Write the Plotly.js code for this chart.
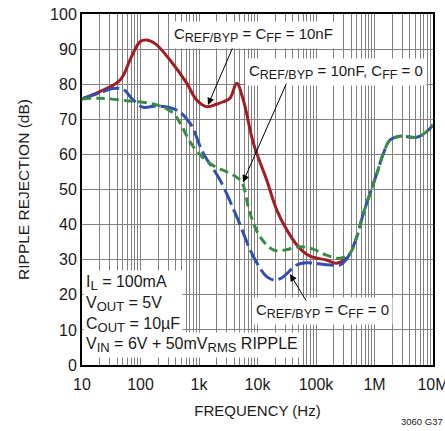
<!DOCTYPE html>
<html><head><meta charset="utf-8">
<script src="https://cdn.plot.ly/plotly-3.0.1.min.js"></script>
<style>html,body{margin:0;padding:0;background:#fff}</style>
</head><body>
<div id="chart" style="width:445px;height:431px"></div>
<script>
// C_REF/BYP = C_FF = 10nF (red)
const redFreq = [10, 23, 45, 70, 98, 128, 180, 319, 617, 912, 1350, 2000, 2600, 3390, 4400, 5720, 8500, 14360, 21300, 31700, 49800, 79000, 151000, 224000, 335000];
const redDB   = [75.8, 78.3, 81.2, 87.8, 92.1, 92.6, 91.5, 86.9, 80.3, 75.5, 73.6, 74.3, 75, 76, 80.3, 75.5, 63.2, 52.7, 44.2, 38.5, 33.7, 31, 29.9, 29, 30.4];
// C_REF/BYP = C_FF = 0 (blue)
const blueFreq = [10, 20, 34, 51, 75, 112, 189, 417, 702, 1186, 2290, 4400, 8500, 14360, 20000, 27000, 46700, 69000, 174000, 257000, 355000, 500000, 646000, 1100000, 1420000, 1840000, 2750000, 5250000, 7800000, 10000000];
const blueDB   = [75.8, 77.5, 78.8, 78.5, 75.5, 73.4, 73.8, 72.6, 68.9, 60.3, 52.7, 42.3, 30.9, 25.2, 24.2, 25, 28.5, 29.1, 28.5, 28.5, 30.9, 36.6, 43.2, 54.6, 60.3, 64.1, 65.2, 64.9, 66.5, 68.4];
// C_REF/BYP = 10nF, C_FF = 0 (green)
const greenFreq = [10, 20, 58, 189, 363, 795, 1540, 3850, 5340, 7450, 11000, 18600, 30000, 53200, 90000, 151000, 256000, 380000, 500000, 646000, 1100000, 1420000, 1840000, 2750000, 5250000, 7800000, 10000000];
const greenDB   = [75.8, 76, 75.3, 74.1, 71.7, 62.2, 57.4, 54.1, 52.2, 43.2, 36.6, 32.8, 32.8, 33.7, 33, 31.3, 30.4, 31.8, 36.6, 43.2, 54.6, 60.3, 64.1, 65.2, 64.9, 66.5, 68.4];

const xTickVals = [10, 100, 1000, 10000, 100000, 1000000, 10000000];
const xTickText = ['10', '100', '1k', '10k', '100k', '1M', '10M'];

const FONT = '"Liberation Sans", Arial, sans-serif';
const sub = (s, px) => '<sub><span style="font-size:' + px + 'px">' + s + '</span></sub>';
const s1 = s => sub(s, 12.5);
const s2 = s => sub(s, 13);

const traces = [
  {x: redFreq, y: redDB, mode: 'lines', line: {color: '#a11d21', width: 3, shape: 'spline', smoothing: 1}},
  {x: blueFreq, y: blueDB, mode: 'lines', line: {color: '#3050b0', width: 3, shape: 'spline', smoothing: 1, dash: '17px,5px'}},
  {x: greenFreq, y: greenDB, mode: 'lines', line: {color: '#3a8c45', width: 3, shape: 'spline', smoothing: 1, dash: '9px,5px'}}
];

const layout = {
  width: 445, height: 431,
  margin: {l: 82, r: 12, t: 14, b: 66},
  showlegend: false,
  paper_bgcolor: '#fff', plot_bgcolor: '#fff',
  font: {family: FONT, color: '#1a1a1a', size: 16},
  xaxis: {
    type: 'log', range: [1, 7],
    tickvals: xTickVals, ticktext: xTickText,
    tickfont: {size: 16}, ticks: '', ticklabeloverflow: 'allow', ticklabelstandoff: 4,
    showgrid: true, gridcolor: '#808080', gridwidth: 1,
    minor: {dtick: 'D1', showgrid: true, gridcolor: '#808080', gridwidth: 1, ticks: ''},
    showline: true, mirror: true, linecolor: '#000', linewidth: 2,
    zeroline: false,
    title: {text: 'FREQUENCY (Hz)', font: {size: 15}, standoff: 13}
  },
  yaxis: {
    range: [0, 100], dtick: 10,
    tickfont: {size: 16}, ticks: '',
    showgrid: true, gridcolor: '#808080', gridwidth: 1,
    showline: true, mirror: true, linecolor: '#000', linewidth: 2,
    zeroline: false,
    title: {text: 'RIPPLE REJECTION (dB)', font: {size: 15.5}, standoff: 17}
  },
  annotations: [
    {x: 3.923, y: 94.0, xref: 'x', yref: 'y', showarrow: false, bgcolor: '#fff', borderpad: 3,
     text: 'C' + s1('REF/BYP') + ' = C' + s1('FF') + ' = 10nF', font: {size: 15}},
    {x: 5.342, y: 83.6, xref: 'x', yref: 'y', showarrow: false, bgcolor: '#fff', borderpad: 3,
     text: 'C' + s1('REF/BYP') + ' = 10nF, C' + s1('FF') + ' = 0', font: {size: 15}},
    {x: 5.103, y: 15.3, xref: 'x', yref: 'y', showarrow: false, bgcolor: '#fff', borderpad: 3,
     text: 'C' + s1('REF/BYP') + ' = C' + s1('FF') + ' = 0', font: {size: 15}},
    {x: 0, y: 0, xref: 'paper', yref: 'paper', xanchor: 'left', yanchor: 'bottom', showarrow: false,
     bgcolor: '#fff', borderpad: 2, align: 'left', xshift: 1, yshift: 27, font: {size: 16},
     text: 'I' + s2('L') + ' = 100mA<br>V' + s2('OUT') + ' = 5V<br>C' + s2('OUT') + ' = 10µF'},
    {x: 0, y: 0, xref: 'paper', yref: 'paper', xanchor: 'left', yanchor: 'bottom', showarrow: false,
     bgcolor: '#fff', borderpad: 2, align: 'left', xshift: 1, yshift: 7, font: {size: 16},
     text: 'V' + s2('IN') + ' = 6V + 50mV' + s2('RMS') + ' RIPPLE'},
    {x: 3.154, y: 74.1, xref: 'x', yref: 'y', text: '', showarrow: true, ax: 25, ay: -58,
     arrowhead: 2, arrowsize: 1.4, arrowwidth: 1, arrowcolor: '#000'},
    {x: 3.752, y: 52.1, xref: 'x', yref: 'y', text: '', showarrow: true, ax: 44, ay: -100,
     arrowhead: 2, arrowsize: 1.4, arrowwidth: 1, arrowcolor: '#000'},
    {x: 4.556, y: 25.9, xref: 'x', yref: 'y', text: '', showarrow: true, ax: 17, ay: 28,
     arrowhead: 2, arrowsize: 1.4, arrowwidth: 1, arrowcolor: '#000'},
    {x: 1, y: 0, xref: 'paper', yref: 'paper', xanchor: 'right', yanchor: 'bottom', showarrow: false,
     xshift: 12, yshift: -64, text: '3060 G37', font: {size: 9.5}}
  ]
};

Plotly.newPlot('chart', traces, layout, {displayModeBar: false, staticPlot: true});
</script>
</body></html>
